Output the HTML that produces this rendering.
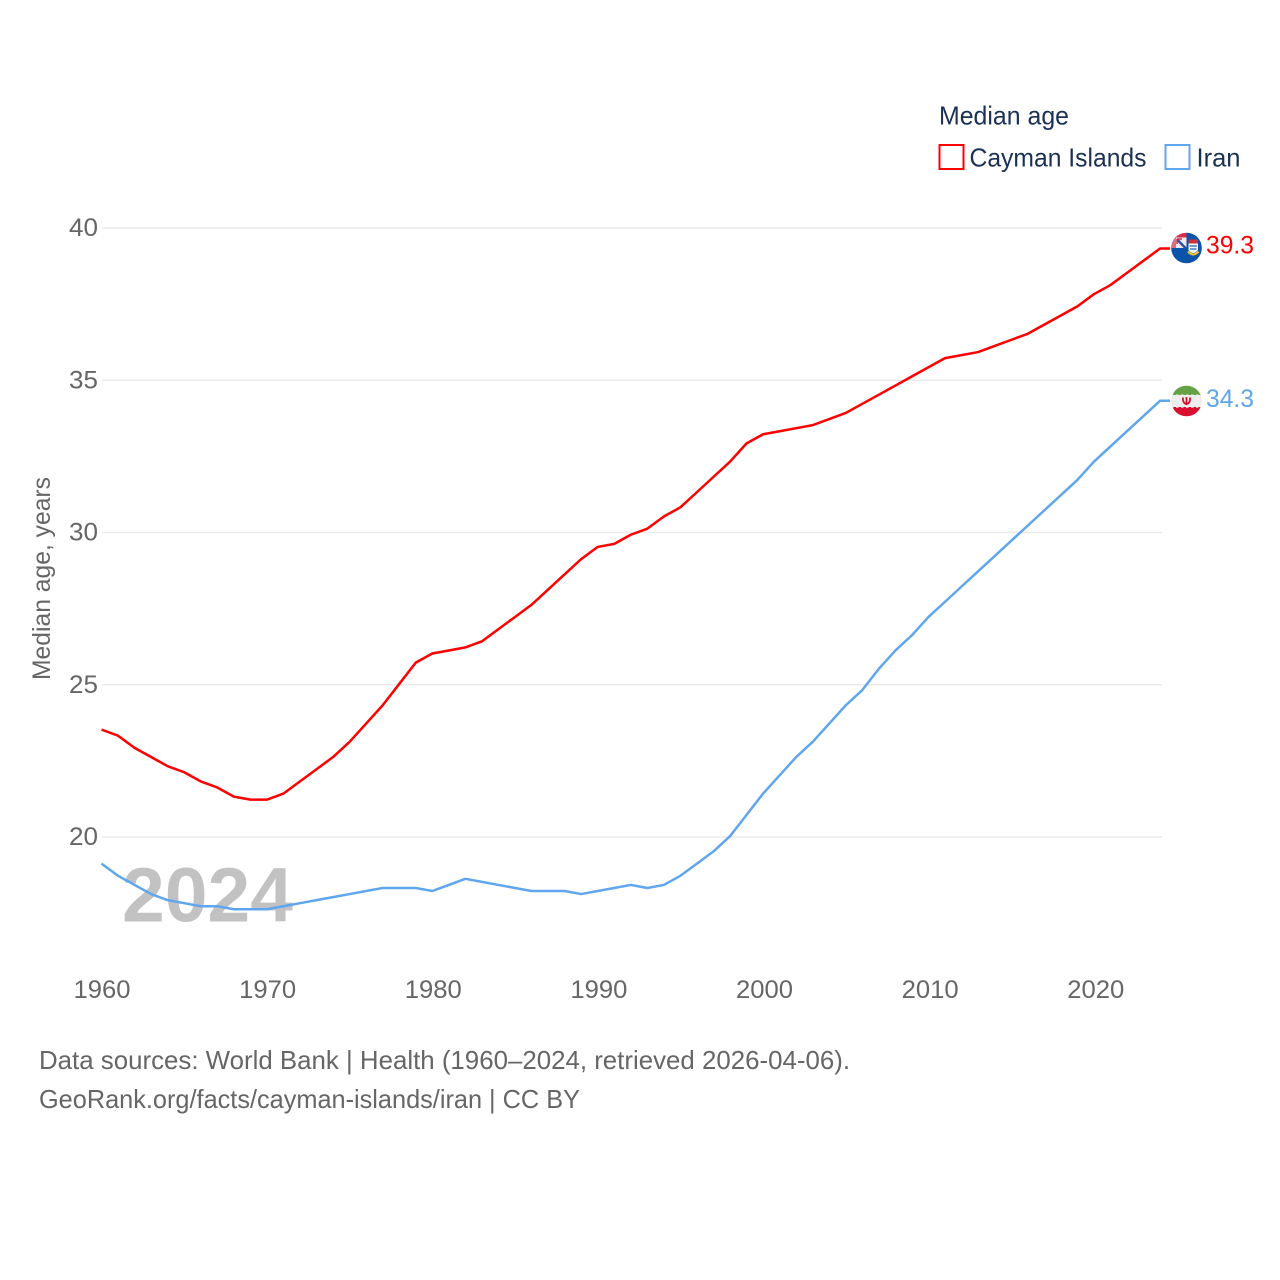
<!DOCTYPE html>
<html lang="en">
<head>
<meta charset="utf-8">
<title>Median age: Cayman Islands and Iran</title>
<style>
html,body{margin:0;padding:0;background:#fff;}
svg{display:block;font-family:"Liberation Sans",sans-serif;}
</style>
</head>
<body>
<svg id="chart" xmlns="http://www.w3.org/2000/svg" width="1280" height="1280" viewBox="0 0 1280 1280">
  <rect x="0" y="0" width="1280" height="1280" fill="#fff"/>
  <defs>
    <clipPath id="clip-cayman"><circle cx="1186.5" cy="248" r="15.3"/></clipPath>
    <clipPath id="clip-iran"><circle cx="1186.5" cy="401" r="15.3"/></clipPath>
  </defs>
  <g id="grid"></g>
  <text x="122" y="921.5" font-size="77" font-weight="700" fill="#c2c2c2" textLength="171" lengthAdjust="spacingAndGlyphs">2024</text>
  <g id="y-ticks"></g>
  <g id="x-ticks"></g>
  <text transform="translate(50 680) rotate(-90)" font-size="25" fill="#666" textLength="203" lengthAdjust="spacingAndGlyphs">Median age, years</text>
  <g id="series"></g>

  <g>
    <text x="939" y="124.5" font-size="26" fill="#1b3154" textLength="130" lengthAdjust="spacingAndGlyphs">Median age</text>
    <rect x="939.5" y="145" width="24" height="24" fill="#fff" stroke="#ff0000" stroke-width="2"/>
    <text x="969.5" y="166.5" font-size="26" fill="#1b3154" textLength="177" lengthAdjust="spacingAndGlyphs">Cayman Islands</text>
    <rect x="1165.5" y="145" width="24" height="24" fill="#fff" stroke="#60a6ee" stroke-width="2"/>
    <text x="1196.5" y="166.5" font-size="26" fill="#1b3154" textLength="44" lengthAdjust="spacingAndGlyphs">Iran</text>
  </g>

  <g clip-path="url(#clip-cayman)">
    <rect x="1171" y="232" width="31" height="32" fill="#0a53a8"/>
    <rect x="1171" y="232" width="15.5" height="16" fill="#eee8ec"/>
    <rect x="1171" y="233" width="15.5" height="4.5" fill="#d8304c"/>
    <rect x="1171" y="232" width="5" height="16" fill="#e06a80"/>
    <path d="M1177.5 240 L1186 248.5" stroke="#2a4f9f" stroke-width="2.4"/>
    <path d="M1177 239 H1182 M1177 239 V244" stroke="#c8304c" stroke-width="1.5" fill="none"/>
    <rect x="1188.5" y="239.5" width="9.5" height="4" fill="#cf3040"/>
    <path d="M1188.5 243.5 H1198 V250 Q1193.2 256 1188.5 250 Z" fill="#f4f6fa"/>
    <path d="M1189.5 246 H1197 M1190 249 H1196.5" stroke="#2a62b8" stroke-width="1.2"/>
    <path d="M1188 251.5 Q1193.2 257.5 1198.5 251.5" fill="none" stroke="#f2c230" stroke-width="2.2"/>
  </g>

  <g clip-path="url(#clip-iran)">
    <rect x="1171" y="385" width="31" height="11" fill="#65a145"/>
    <rect x="1171" y="395" width="31" height="13" fill="#eeeeee"/>
    <rect x="1171" y="407" width="31" height="10" fill="#d90f2f"/>
    <path d="M1171 395.3 H1202" stroke="#eeeeee" stroke-width="1.6" stroke-dasharray="2.5 2.5"/>
    <path d="M1171 407 H1202" stroke="#eeeeee" stroke-width="1.6" stroke-dasharray="2.5 2.5"/>
    <path d="M1186.5 397 V404.5 M1183 397.5 Q1182.3 402.8 1186.5 404.3 Q1190.7 402.8 1190 397.5" fill="none" stroke="#d90f2f" stroke-width="1.8"/>
  </g>

  <g>
    <text x="39" y="1069" font-size="26" fill="#666" textLength="811" lengthAdjust="spacingAndGlyphs">Data sources: World Bank | Health (1960–2024, retrieved 2026-04-06).</text>
    <text x="39" y="1108" font-size="26" fill="#666" textLength="541" lengthAdjust="spacingAndGlyphs">GeoRank.org/facts/cayman-islands/iran | CC BY</text>
  </g>
</svg>
<script>
const years = [1960,1961,1962,1963,1964,1965,1966,1967,1968,1969,1970,1971,1972,1973,1974,1975,1976,1977,1978,1979,1980,1981,1982,1983,1984,1985,1986,1987,1988,1989,1990,1991,1992,1993,1994,1995,1996,1997,1998,1999,2000,2001,2002,2003,2004,2005,2006,2007,2008,2009,2010,2011,2012,2013,2014,2015,2016,2017,2018,2019,2020,2021,2022,2023,2024];
const caymanValues = [23.5,23.3,22.9,22.6,22.3,22.1,21.8,21.6,21.3,21.2,21.2,21.4,21.8,22.2,22.6,23.1,23.7,24.3,25.0,25.7,26.0,26.1,26.2,26.4,26.8,27.2,27.6,28.1,28.6,29.1,29.5,29.6,29.9,30.1,30.5,30.8,31.3,31.8,32.3,32.9,33.2,33.3,33.4,33.5,33.7,33.9,34.2,34.5,34.8,35.1,35.4,35.7,35.8,35.9,36.1,36.3,36.5,36.8,37.1,37.4,37.8,38.1,38.5,38.9,39.3];
const iranValues = [19.1,18.7,18.4,18.1,17.9,17.8,17.7,17.7,17.6,17.6,17.6,17.7,17.8,17.9,18.0,18.1,18.2,18.3,18.3,18.3,18.2,18.4,18.6,18.5,18.4,18.3,18.2,18.2,18.2,18.1,18.2,18.3,18.4,18.3,18.4,18.7,19.1,19.5,20.0,20.7,21.4,22.0,22.6,23.1,23.7,24.3,24.8,25.5,26.1,26.6,27.2,27.7,28.2,28.7,29.2,29.7,30.2,30.7,31.2,31.7,32.3,32.8,33.3,33.8,34.3];
const yTickValues = [20,25,30,35,40];
const xTickValues = [1960,1970,1980,1990,2000,2010,2020];
const caymanEndLabel = "39.3";
const iranEndLabel = "34.3";

const NS = "http://www.w3.org/2000/svg";
const xScale = function (year) { return 102 + (year - 1960) * 16.5625; };
const yScale = function (value) { return 837 - (value - 20) * 30.45; };
const lineX = function (year) { return 101.5 + (year - 1960) * 16.54; };
const lineY = function (value) { return yScale(value) - 0.8; };

function make(tag, parentId, attrs, content) {
  const el = document.createElementNS(NS, tag);
  Object.keys(attrs).forEach(function (k) { el.setAttribute(k, attrs[k]); });
  if (content !== undefined) el.textContent = content;
  document.getElementById(parentId).appendChild(el);
  return el;
}

yTickValues.forEach(function (v) {
  const line = make("line", "grid", {x1: 102, x2: 1162, y1: yScale(v), y2: yScale(v), stroke: "#eaeaea", "stroke-width": 1.5});
  
  
  const label = make("text", "y-ticks", {x: 98, y: yScale(v) + 8, "text-anchor": "end", "font-size": 25, fill: "#666", textLength: 29, lengthAdjust: "spacingAndGlyphs"}, String(v));
  
  
});

xTickValues.forEach(function (year) {
  const label = make("text", "x-ticks", {x: xScale(year), y: 998, "text-anchor": "middle", "font-size": 25, fill: "#666", textLength: 57, lengthAdjust: "spacingAndGlyphs"}, String(year));
  
  
});

function linePath(values) {
  const pts = values.map(function (v, i) { return lineX(years[i]).toFixed(2) + "," + lineY(v).toFixed(2); });
  const last = values[values.length - 1];
  pts.push((lineX(years[years.length - 1]) + 10).toFixed(2) + "," + lineY(last).toFixed(2));
  return "M" + pts.join("L");
}

const caymanLine = make("path", "series", {d: linePath(caymanValues), fill: "none", stroke: "#ff0000", "stroke-width": 2.5, "stroke-linejoin": "round"});



const iranLine = make("path", "series", {d: linePath(iranValues), fill: "none", stroke: "#60a6ee", "stroke-width": 2.5, "stroke-linejoin": "round"});



const caymanEnd = make("text", "series", {x: 1206, y: lineY(caymanValues[caymanValues.length - 1]) + 5, "font-size": 25, fill: "#ff0000", textLength: 48, lengthAdjust: "spacingAndGlyphs"}, caymanEndLabel);



const iranEnd = make("text", "series", {x: 1206, y: lineY(iranValues[iranValues.length - 1]) + 6, "font-size": 25, fill: "#60a6ee", textLength: 48, lengthAdjust: "spacingAndGlyphs"}, iranEndLabel);


</script>
</body>
</html>
